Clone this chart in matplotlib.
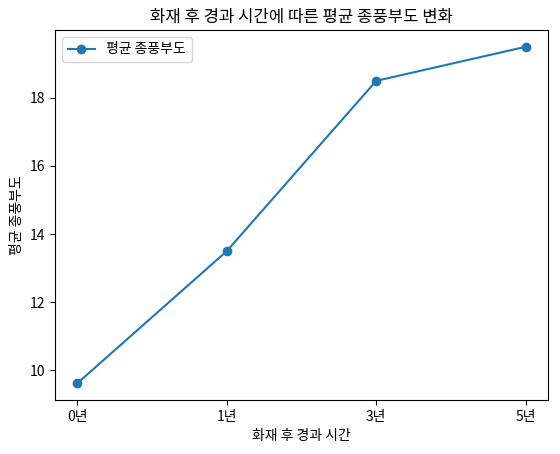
import matplotlib
matplotlib.use("Agg")
import matplotlib.pyplot as plt

plt.rcParams['font.family'] = ['Noto Sans CJK KR', 'DejaVu Sans']
plt.rcParams['axes.unicode_minus'] = False

years = ['0년', '1년', '3년', '5년']
richness = [9.62, 13.5, 18.5, 19.5]

fig = plt.figure(figsize=(5.6, 4.54), dpi=100)
ax = fig.add_axes([55 / 560, 54 / 454, 493 / 560, 370 / 454])

ax.plot(years, richness, marker='o', label='평균 종풍부도')
ax.set_title('화재 후 경과 시간에 따른 평균 종풍부도 변화')
ax.set_xlabel('화재 후 경과 시간')
ax.set_ylabel('평균 종풍부도')
ax.legend(loc='upper left')

fig.savefig('out.png', dpi=100)
